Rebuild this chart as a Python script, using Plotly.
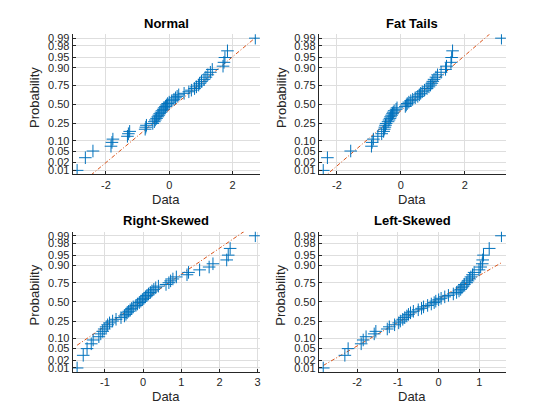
import numpy as np
import plotly.graph_objects as go
from statistics import NormalDist

# ---------------- data (sorted samples, n = 50 each) ----------------
titles = ["Normal", "Fat Tails", "Right-Skewed", "Left-Skewed"]

normal_data = [-2.91, -2.65, -2.41, -1.84, -1.81, -1.78, -1.32, -1.29, -1.25, -0.76,
               -0.74, -0.72, -0.52, -0.47, -0.44, -0.40, -0.36, -0.33, -0.30, -0.26,
               -0.23, -0.19, -0.16, -0.12, -0.09, -0.05, 0.00, 0.08, 0.15, 0.20,
               0.25, 0.30, 0.47, 0.62, 0.70, 0.80, 0.86, 0.93, 0.96, 1.02,
               1.10, 1.16, 1.22, 1.30, 1.36, 1.70, 1.73, 1.76, 1.84, 2.72]

fat_tails_data = [-2.43, -2.30, -1.57, -0.92, -0.90, -0.86, -0.72, -0.60, -0.54, -0.52,
                  -0.50, -0.48, -0.46, -0.40, -0.37, -0.34, -0.32, -0.29, -0.26, -0.24,
                  -0.21, -0.15, -0.12, 0.14, 0.17, 0.20, 0.25, 0.31, 0.37, 0.45,
                  0.53, 0.58, 0.62, 0.67, 0.74, 0.82, 0.88, 0.93, 0.97, 1.00,
                  1.04, 1.10, 1.15, 1.26, 1.40, 1.43, 1.57, 1.59, 1.62, 3.15]

right_skewed_data = [-1.73, -1.57, -1.47, -1.36, -1.31, -1.16, -1.11, -1.06, -1.02, -0.97,
                     -0.93, -0.88, -0.80, -0.71, -0.58, -0.49, -0.45, -0.42, -0.38, -0.34,
                     -0.30, -0.26, -0.19, -0.15, -0.10, -0.06, -0.02, 0.02, 0.06, 0.10,
                     0.14, 0.19, 0.23, 0.28, 0.33, 0.40, 0.60, 0.675, 0.72, 0.78,
                     0.87, 1.15, 1.19, 1.48, 1.73, 1.83, 2.19, 2.23, 2.28, 2.94]

left_skewed_data = [-2.83, -2.30, -2.22, -1.90, -1.85, -1.78, -1.58, -1.54, -1.26, -1.21,
                    -1.08, -0.98, -0.94, -0.88, -0.83, -0.78, -0.74, -0.69, -0.62, -0.50,
                    -0.42, -0.37, -0.27, -0.18, -0.11, -0.07, 0.00, 0.06, 0.15, 0.24,
                    0.36, 0.44, 0.50, 0.54, 0.57, 0.60, 0.63, 0.69, 0.72, 0.76,
                    0.79, 0.83, 0.87, 0.99, 1.03, 1.07, 1.08, 1.10, 1.24, 1.54]

datasets = [normal_data, fat_tails_data, right_skewed_data, left_skewed_data]

prob_ticks = [0.01, 0.02, 0.05, 0.10, 0.25, 0.50, 0.75, 0.90, 0.95, 0.98, 0.99]
prob_labels = ["0.01", "0.02", "0.05", "0.10", "0.25", "0.50", "0.75", "0.90", "0.95", "0.98", "0.99"]
x_ticks = [[-2, 0, 2], [-2, 0, 2], [-1, 0, 1, 2, 3], [-2, -1, 0, 1]]

# ---------------- layout / style ----------------
dom_x = [[0.13, 0.4647], [0.5703, 0.905], [0.13, 0.4647], [0.5703, 0.905]]
dom_y = [[0.5857, 0.9226], [0.5857, 0.9226], [0.1107, 0.4476], [0.1107, 0.4476]]
BLUE = "#0072BD"
ORANGE = "#D95319"
AXC = "#262626"
GRID = "#dedede"
FONT = "Liberation Sans, Arial, Helvetica, sans-serif"
W, H = 560, 420

nd = NormalDist()
fig = go.Figure()
annotations = []

for k, data in enumerate(datasets):
    x = np.sort(np.asarray(data, dtype=float))
    n = len(x)
    z = np.array([nd.inv_cdf((i - 0.5) / n) for i in range(1, n + 1)])
    sfx = "" if k == 0 else str(k + 1)
    xa, ya = "x" + sfx, "y" + sfx

    # reference line through the quartiles, extended to data extremes
    q1, q3 = np.percentile(x, [25, 75], method="hazen")
    z1, z3 = nd.inv_cdf(0.25), nd.inv_cdf(0.75)
    slope = (z3 - z1) / (q3 - q1)
    lx = np.array([x.min(), x.max()])
    ly = z1 + slope * (lx - q1)

    fig.add_trace(go.Scatter(x=lx, y=ly, mode="lines", xaxis=xa, yaxis=ya,
                             line=dict(color=ORANGE, width=1, dash="4px,2px,1px,2px"),
                             showlegend=False, hoverinfo="skip"))
    fig.add_trace(go.Scatter(x=x, y=z, mode="markers", xaxis=xa, yaxis=ya,
                             marker=dict(symbol="cross-thin", size=9,
                                         line=dict(color=BLUE, width=1)),
                             showlegend=False))

    rng = x.max() - x.min()
    xr = [x.min() - 0.025 * rng, x.max() + 0.025 * rng]
    zmax = nd.inv_cdf(1 - 0.5 / n)
    pad = 0.03 * 2 * zmax
    yr = [-zmax - pad, zmax + pad]

    common = dict(showgrid=True, gridcolor=GRID, gridwidth=1, zeroline=False,
                  showline=True, linecolor=AXC, linewidth=1, mirror=False,
                  ticks="inside", ticklen=3, tickcolor=AXC,
                  tickfont=dict(family=FONT, size=11, color=AXC))
    fig.update_layout(**{
        "xaxis" + sfx: dict(domain=dom_x[k], range=xr, anchor=ya,
                            tickvals=x_ticks[k], ticktext=[f"{t:g}" for t in x_ticks[k]],
                            **common),
        "yaxis" + sfx: dict(domain=dom_y[k], range=yr, anchor=xa,
                            tickvals=[nd.inv_cdf(p) for p in prob_ticks], ticktext=prob_labels,
                            **common),
    })

    xc = (dom_x[k][0] + dom_x[k][1]) / 2
    yc = (dom_y[k][0] + dom_y[k][1]) / 2
    annotations.append(dict(text="<b>" + titles[k] + "</b>", xref="paper", yref="paper",
                            x=xc, y=dom_y[k][1], xanchor="center", yanchor="middle",
                            yshift=11, showarrow=False,
                            font=dict(family=FONT, size=13, color="#000000")))
    annotations.append(dict(text="Data", xref="paper", yref="paper",
                            x=xc, y=dom_y[k][0], xanchor="center", yanchor="middle",
                            yshift=-25, showarrow=False,
                            font=dict(family=FONT, size=13, color=AXC)))
    annotations.append(dict(text="Probability", xref="paper", yref="paper",
                            x=dom_x[k][0], y=yc, xanchor="center", yanchor="middle",
                            xshift=-38, yshift=7, textangle=-90, showarrow=False,
                            font=dict(family=FONT, size=13, color=AXC)))

fig.update_layout(width=W, height=H, margin=dict(l=0, r=0, t=0, b=0),
                  paper_bgcolor="white", plot_bgcolor="white",
                  annotations=annotations, showlegend=False)

fig.write_html("out.html", config={"displayModeBar": False},
               post_script="document.body.style.margin='0px';document.body.style.padding='0px';")
